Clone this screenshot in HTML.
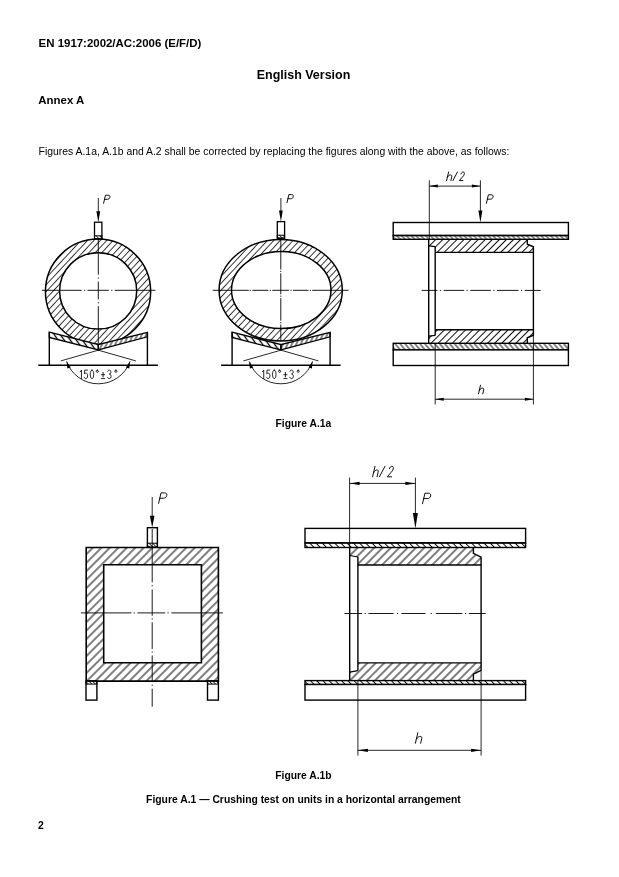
<!DOCTYPE html>
<html><head><meta charset="utf-8"><style>
html,body{margin:0;padding:0;background:#fff;width:619px;height:877px;overflow:hidden}
svg{display:block;will-change:transform}
text{font-family:"Liberation Sans",sans-serif;fill:#000}
</style></head><body>
<svg width="619" height="877" viewBox="0 0 619 877">
<defs>
<pattern id="hA" patternUnits="userSpaceOnUse" width="4.7" height="10" patternTransform="rotate(43)"><line x1="2.35" y1="-1" x2="2.35" y2="11" stroke="#000" stroke-width="0.8"/></pattern>
<pattern id="hA2" patternUnits="userSpaceOnUse" width="5.0" height="10" patternTransform="rotate(45)"><line x1="2.5" y1="-1" x2="2.5" y2="11" stroke="#000" stroke-width="0.95"/></pattern>
<pattern id="hA3" patternUnits="userSpaceOnUse" width="5.9" height="10" patternTransform="rotate(45)"><line x1="2.95" y1="-1" x2="2.95" y2="11" stroke="#000" stroke-width="1.0"/></pattern>
<pattern id="hA4" patternUnits="userSpaceOnUse" width="6.0" height="10" patternTransform="rotate(45)"><line x1="3.0" y1="-1" x2="3.0" y2="11" stroke="#000" stroke-width="1.0"/></pattern>
<pattern id="hL" patternUnits="userSpaceOnUse" width="5.0" height="10" patternTransform="rotate(-35)"><line x1="2.5" y1="-1" x2="2.5" y2="11" stroke="#000" stroke-width="1.3"/></pattern>
<pattern id="hR" patternUnits="userSpaceOnUse" width="4.0" height="10" patternTransform="rotate(25)"><line x1="2.0" y1="-1" x2="2.0" y2="11" stroke="#000" stroke-width="0.95"/></pattern>
<pattern id="hS" patternUnits="userSpaceOnUse" width="2.5" height="10" patternTransform="rotate(-45)"><line x1="1.25" y1="-1" x2="1.25" y2="11" stroke="#000" stroke-width="0.8"/></pattern>
<pattern id="hP1" patternUnits="userSpaceOnUse" width="3.4" height="10" patternTransform="rotate(-45)"><line x1="1.7" y1="-1" x2="1.7" y2="11" stroke="#000" stroke-width="0.85"/></pattern>
<pattern id="hP3" patternUnits="userSpaceOnUse" width="4.4" height="10" patternTransform="rotate(-45)"><line x1="2.2" y1="-1" x2="2.2" y2="11" stroke="#000" stroke-width="0.95"/></pattern>
<pattern id="hP2" patternUnits="userSpaceOnUse" width="3.8" height="10" patternTransform="rotate(-40)"><line x1="1.9" y1="-1" x2="1.9" y2="11" stroke="#000" stroke-width="0.95"/></pattern>
</defs>
<text x="38.6" y="47.2" font-size="11.44" font-weight="bold" font-style="normal" text-anchor="start" >EN 1917:2002/AC:2006 (E/F/D)</text>
<text x="303.5" y="79.2" font-size="12.48" font-weight="bold" font-style="normal" text-anchor="middle" >English Version</text>
<text x="38.3" y="103.6" font-size="11.44" font-weight="bold" font-style="normal" text-anchor="start" >Annex A</text>
<text x="38.6" y="154.6" font-size="10.4" font-weight="normal" font-style="normal" text-anchor="start" >Figures A.1a, A.1b and A.2 shall be corrected by replacing the figures along with the above, as follows:</text>
<text x="303.4" y="427.2" font-size="10.3" font-weight="bold" font-style="normal" text-anchor="middle" >Figure A.1a</text>
<text x="303.4" y="778.7" font-size="10.3" font-weight="bold" font-style="normal" text-anchor="middle" >Figure A.1b</text>
<text x="303.4" y="802.9" font-size="10.35" font-weight="bold" font-style="normal" text-anchor="middle" >Figure A.1 — Crushing test on units in a horizontal arrangement</text>
<text x="37.9" y="828.7" font-size="10.4" font-weight="bold" font-style="normal" text-anchor="start" >2</text>
<path d="M45.45,291.6 a52.6,52.6 0 1,0 105.2,0 a52.6,52.6 0 1,0 -105.2,0 Z M59.6,290.9 a38.55,38.2 0 1,0 77.1,0 a38.55,38.2 0 1,0 -77.1,0 Z" fill="url(#hA)" fill-rule="evenodd" stroke="#000" stroke-width="1.5"/>
<polygon points="49.30,332.20 98.30,344.60 98.30,350.00 49.30,337.40" fill="#fff" stroke="#000" stroke-width="0" />
<polygon points="147.40,332.40 98.30,344.60 98.30,350.00 147.40,336.80" fill="#fff" stroke="#000" stroke-width="0" />
<polygon points="49.30,332.20 98.30,344.60 98.30,350.00 49.30,337.40" fill="url(#hL)" stroke="#000" stroke-width="1.3" />
<polygon points="147.40,332.40 98.30,344.60 98.30,350.00 147.40,336.80" fill="url(#hR)" stroke="#000" stroke-width="1.3" />
<line x1="49.30" y1="332.20" x2="49.30" y2="365.30" stroke="#000" stroke-width="1.4" />
<line x1="147.40" y1="332.40" x2="147.40" y2="365.30" stroke="#000" stroke-width="1.4" />
<line x1="38.30" y1="365.30" x2="157.90" y2="365.30" stroke="#000" stroke-width="1.4" />
<line x1="98.30" y1="350.20" x2="60.80" y2="360.90" stroke="#000" stroke-width="0.85" />
<line x1="98.30" y1="350.20" x2="135.80" y2="360.90" stroke="#000" stroke-width="0.85" />
<path d="M66.63,361.42 A33.6,33.6 0 0 0 129.97,361.42" fill="none" stroke="#000" stroke-width="0.85" />
<polygon points="66.63,361.42 70.66,367.41 67.27,368.62" fill="#000"/>
<polygon points="129.97,361.42 129.33,368.62 125.94,367.41" fill="#000"/>
<path d="M0,-8.0 L2.2,-10 L2.2,0" transform="translate(80.10,378.60) skewX(0) scale(0.6120,0.8500)" fill="none" stroke="#000" stroke-width="0.85" stroke-linecap="round" stroke-linejoin="round" vector-effect="non-scaling-stroke"/>
<path d="M5.4,-10 L1.0,-10 L0.6,-5.7 C1.3,-6.3 2.1,-6.5 2.9,-6.5 C4.7,-6.5 5.7,-5.3 5.7,-3.3 C5.7,-1.2 4.6,0 2.9,0 C1.6,0 0.7,-0.6 0.2,-1.6" transform="translate(84.10,378.60) skewX(0) scale(0.6120,0.8500)" fill="none" stroke="#000" stroke-width="0.85" stroke-linecap="round" stroke-linejoin="round" vector-effect="non-scaling-stroke"/>
<path d="M2.9,-10 C1.1,-10 0.1,-8.0 0.1,-5.0 C0.1,-2.0 1.1,0 2.9,0 C4.7,0 5.7,-2.0 5.7,-5.0 C5.7,-8.0 4.7,-10 2.9,-10 Z" transform="translate(90.20,378.60) skewX(0) scale(0.6120,0.8500)" fill="none" stroke="#000" stroke-width="0.85" stroke-linecap="round" stroke-linejoin="round" vector-effect="non-scaling-stroke"/>
<path d="M1.8,-9.9 C2.8,-9.9 3.6,-9.3 3.6,-8.6 C3.6,-7.9 2.8,-7.3 1.8,-7.3 C0.8,-7.3 0,-7.9 0,-8.6 C0,-9.3 0.8,-9.9 1.8,-9.9 Z" transform="translate(96.20,378.60) skewX(0) scale(0.6120,0.8500)" fill="none" stroke="#000" stroke-width="0.85" stroke-linecap="round" stroke-linejoin="round" vector-effect="non-scaling-stroke"/>
<path d="M0,-4.6 L5.2,-4.6 M2.6,-7.3 L2.6,-1.9 M0,0 L5.2,0" transform="translate(101.50,378.60) skewX(0) scale(0.6120,0.8500)" fill="none" stroke="#000" stroke-width="0.85" stroke-linecap="round" stroke-linejoin="round" vector-effect="non-scaling-stroke"/>
<path d="M0.3,-8.6 C0.8,-9.6 1.8,-10 2.9,-10 C4.5,-10 5.5,-9.1 5.5,-7.6 C5.5,-6.2 4.4,-5.4 2.8,-5.4 C4.6,-5.4 5.8,-4.4 5.8,-2.7 C5.8,-1.0 4.6,0 2.9,0 C1.7,0 0.6,-0.5 0.1,-1.5" transform="translate(107.50,378.60) skewX(0) scale(0.6120,0.8500)" fill="none" stroke="#000" stroke-width="0.85" stroke-linecap="round" stroke-linejoin="round" vector-effect="non-scaling-stroke"/>
<path d="M1.8,-9.9 C2.8,-9.9 3.6,-9.3 3.6,-8.6 C3.6,-7.9 2.8,-7.3 1.8,-7.3 C0.8,-7.3 0,-7.9 0,-8.6 C0,-9.3 0.8,-9.9 1.8,-9.9 Z" transform="translate(114.80,378.60) skewX(0) scale(0.6120,0.8500)" fill="none" stroke="#000" stroke-width="0.85" stroke-linecap="round" stroke-linejoin="round" vector-effect="non-scaling-stroke"/>
<line x1="98.30" y1="198.00" x2="98.30" y2="212.20" stroke="#000" stroke-width="0.85" />
<polygon points="98.30,222.20 96.40,211.20 100.20,211.20" fill="#000"/>
<rect x="94.5" y="222.2" width="7.400000000000006" height="16.600000000000023" fill="#fff" stroke="#000" stroke-width="1.3"/>
<rect x="94.5" y="235.8" width="7.400000000000006" height="3" fill="url(#hS)" stroke="#000" stroke-width="1.0"/>
<path d="M0,0 L0,-10 L3.4,-10 C5.2,-10 6.0,-9.0 6.0,-7.4 C6.0,-5.8 5.2,-4.9 3.4,-4.9 L0,-4.9" transform="translate(103.60,203.30) skewX(-13) scale(0.8100,0.8100)" fill="none" stroke="#000" stroke-width="0.95" stroke-linecap="round" stroke-linejoin="round" vector-effect="non-scaling-stroke"/>
<line x1="41.90" y1="290.30" x2="81.70" y2="290.30" stroke="#000" stroke-width="0.9" />
<line x1="87.50" y1="290.30" x2="108.90" y2="290.30" stroke="#000" stroke-width="0.9" />
<line x1="114.70" y1="290.30" x2="155.40" y2="290.30" stroke="#000" stroke-width="0.9" />
<line x1="84.00" y1="290.30" x2="85.20" y2="290.30" stroke="#000" stroke-width="0.9" />
<line x1="111.20" y1="290.30" x2="112.40" y2="290.30" stroke="#000" stroke-width="0.9" />
<line x1="98.30" y1="238.80" x2="98.30" y2="274.70" stroke="#000" stroke-width="0.9" />
<line x1="98.30" y1="281.60" x2="98.30" y2="299.40" stroke="#000" stroke-width="0.9" />
<line x1="98.30" y1="306.20" x2="98.30" y2="343.20" stroke="#000" stroke-width="0.9" />
<line x1="98.30" y1="277.50" x2="98.30" y2="278.70" stroke="#000" stroke-width="0.9" />
<line x1="98.30" y1="302.20" x2="98.30" y2="303.40" stroke="#000" stroke-width="0.9" />
<path d="M219.1,290.2 a61.6,50.8 0 1,0 123.2,0 a61.6,50.8 0 1,0 -123.2,0 Z M231.5,290.05 a49.75,38.55 0 1,0 99.5,0 a49.75,38.55 0 1,0 -99.5,0 Z" fill="url(#hA)" fill-rule="evenodd" stroke="#000" stroke-width="1.5"/>
<polygon points="232.10,332.20 280.90,344.60 280.90,350.00 232.10,337.40" fill="#fff" stroke="#000" stroke-width="0" />
<polygon points="330.10,332.40 280.90,344.60 280.90,350.00 330.10,336.80" fill="#fff" stroke="#000" stroke-width="0" />
<polygon points="232.10,332.20 280.90,344.60 280.90,350.00 232.10,337.40" fill="url(#hL)" stroke="#000" stroke-width="1.3" />
<polygon points="330.10,332.40 280.90,344.60 280.90,350.00 330.10,336.80" fill="url(#hR)" stroke="#000" stroke-width="1.3" />
<line x1="232.10" y1="332.20" x2="232.10" y2="365.30" stroke="#000" stroke-width="1.4" />
<line x1="330.10" y1="332.40" x2="330.10" y2="365.30" stroke="#000" stroke-width="1.4" />
<line x1="221.10" y1="365.30" x2="340.60" y2="365.30" stroke="#000" stroke-width="1.4" />
<line x1="280.90" y1="350.20" x2="243.40" y2="360.90" stroke="#000" stroke-width="0.85" />
<line x1="280.90" y1="350.20" x2="318.40" y2="360.90" stroke="#000" stroke-width="0.85" />
<path d="M249.23,361.42 A33.6,33.6 0 0 0 312.57,361.42" fill="none" stroke="#000" stroke-width="0.85" />
<polygon points="249.23,361.42 253.26,367.41 249.87,368.62" fill="#000"/>
<polygon points="312.57,361.42 311.93,368.62 308.54,367.41" fill="#000"/>
<path d="M0,-8.0 L2.2,-10 L2.2,0" transform="translate(262.40,378.60) skewX(0) scale(0.6120,0.8500)" fill="none" stroke="#000" stroke-width="0.85" stroke-linecap="round" stroke-linejoin="round" vector-effect="non-scaling-stroke"/>
<path d="M5.4,-10 L1.0,-10 L0.6,-5.7 C1.3,-6.3 2.1,-6.5 2.9,-6.5 C4.7,-6.5 5.7,-5.3 5.7,-3.3 C5.7,-1.2 4.6,0 2.9,0 C1.6,0 0.7,-0.6 0.2,-1.6" transform="translate(266.40,378.60) skewX(0) scale(0.6120,0.8500)" fill="none" stroke="#000" stroke-width="0.85" stroke-linecap="round" stroke-linejoin="round" vector-effect="non-scaling-stroke"/>
<path d="M2.9,-10 C1.1,-10 0.1,-8.0 0.1,-5.0 C0.1,-2.0 1.1,0 2.9,0 C4.7,0 5.7,-2.0 5.7,-5.0 C5.7,-8.0 4.7,-10 2.9,-10 Z" transform="translate(272.50,378.60) skewX(0) scale(0.6120,0.8500)" fill="none" stroke="#000" stroke-width="0.85" stroke-linecap="round" stroke-linejoin="round" vector-effect="non-scaling-stroke"/>
<path d="M1.8,-9.9 C2.8,-9.9 3.6,-9.3 3.6,-8.6 C3.6,-7.9 2.8,-7.3 1.8,-7.3 C0.8,-7.3 0,-7.9 0,-8.6 C0,-9.3 0.8,-9.9 1.8,-9.9 Z" transform="translate(278.50,378.60) skewX(0) scale(0.6120,0.8500)" fill="none" stroke="#000" stroke-width="0.85" stroke-linecap="round" stroke-linejoin="round" vector-effect="non-scaling-stroke"/>
<path d="M0,-4.6 L5.2,-4.6 M2.6,-7.3 L2.6,-1.9 M0,0 L5.2,0" transform="translate(283.80,378.60) skewX(0) scale(0.6120,0.8500)" fill="none" stroke="#000" stroke-width="0.85" stroke-linecap="round" stroke-linejoin="round" vector-effect="non-scaling-stroke"/>
<path d="M0.3,-8.6 C0.8,-9.6 1.8,-10 2.9,-10 C4.5,-10 5.5,-9.1 5.5,-7.6 C5.5,-6.2 4.4,-5.4 2.8,-5.4 C4.6,-5.4 5.8,-4.4 5.8,-2.7 C5.8,-1.0 4.6,0 2.9,0 C1.7,0 0.6,-0.5 0.1,-1.5" transform="translate(289.80,378.60) skewX(0) scale(0.6120,0.8500)" fill="none" stroke="#000" stroke-width="0.85" stroke-linecap="round" stroke-linejoin="round" vector-effect="non-scaling-stroke"/>
<path d="M1.8,-9.9 C2.8,-9.9 3.6,-9.3 3.6,-8.6 C3.6,-7.9 2.8,-7.3 1.8,-7.3 C0.8,-7.3 0,-7.9 0,-8.6 C0,-9.3 0.8,-9.9 1.8,-9.9 Z" transform="translate(297.10,378.60) skewX(0) scale(0.6120,0.8500)" fill="none" stroke="#000" stroke-width="0.85" stroke-linecap="round" stroke-linejoin="round" vector-effect="non-scaling-stroke"/>
<line x1="280.90" y1="198.00" x2="280.90" y2="211.60" stroke="#000" stroke-width="0.85" />
<polygon points="280.90,221.60 279.00,210.60 282.80,210.60" fill="#000"/>
<rect x="277.3" y="221.6" width="7.300000000000011" height="16.599999999999994" fill="#fff" stroke="#000" stroke-width="1.3"/>
<rect x="277.3" y="235.2" width="7.300000000000011" height="3" fill="url(#hS)" stroke="#000" stroke-width="1.0"/>
<path d="M0,0 L0,-10 L3.4,-10 C5.2,-10 6.0,-9.0 6.0,-7.4 C6.0,-5.8 5.2,-4.9 3.4,-4.9 L0,-4.9" transform="translate(287.00,202.70) skewX(-13) scale(0.8100,0.8100)" fill="none" stroke="#000" stroke-width="0.95" stroke-linecap="round" stroke-linejoin="round" vector-effect="non-scaling-stroke"/>
<line x1="212.70" y1="290.30" x2="248.80" y2="290.30" stroke="#000" stroke-width="0.9" />
<line x1="252.30" y1="290.30" x2="268.40" y2="290.30" stroke="#000" stroke-width="0.9" />
<line x1="272.30" y1="290.30" x2="289.10" y2="290.30" stroke="#000" stroke-width="0.9" />
<line x1="293.00" y1="290.30" x2="308.50" y2="290.30" stroke="#000" stroke-width="0.9" />
<line x1="312.20" y1="290.30" x2="348.50" y2="290.30" stroke="#000" stroke-width="0.9" />
<line x1="249.70" y1="290.30" x2="250.90" y2="290.30" stroke="#000" stroke-width="0.9" />
<line x1="269.80" y1="290.30" x2="271.00" y2="290.30" stroke="#000" stroke-width="0.9" />
<line x1="290.40" y1="290.30" x2="291.60" y2="290.30" stroke="#000" stroke-width="0.9" />
<line x1="309.80" y1="290.30" x2="311.00" y2="290.30" stroke="#000" stroke-width="0.9" />
<line x1="280.80" y1="238.20" x2="280.80" y2="269.50" stroke="#000" stroke-width="0.9" />
<line x1="280.80" y1="273.30" x2="280.80" y2="294.30" stroke="#000" stroke-width="0.9" />
<line x1="280.80" y1="298.10" x2="280.80" y2="320.70" stroke="#000" stroke-width="0.9" />
<line x1="280.80" y1="324.50" x2="280.80" y2="341.00" stroke="#000" stroke-width="0.9" />
<line x1="280.80" y1="270.80" x2="280.80" y2="272.00" stroke="#000" stroke-width="0.9" />
<line x1="280.80" y1="295.60" x2="280.80" y2="296.80" stroke="#000" stroke-width="0.9" />
<line x1="280.80" y1="322.00" x2="280.80" y2="323.20" stroke="#000" stroke-width="0.9" />
<rect x="393.2" y="222.5" width="175.2" height="13.0" fill="#fff" stroke="#000" stroke-width="1.4"/>
<rect x="393.2" y="235.5" width="175.2" height="3.8000000000000114" fill="url(#hP1)" stroke="#000" stroke-width="1.4"/>
<rect x="393.2" y="343.3" width="175.2" height="6.599999999999966" fill="url(#hP2)" stroke="#000" stroke-width="1.4"/>
<rect x="393.2" y="349.9" width="175.2" height="15.600000000000023" fill="#fff" stroke="#000" stroke-width="1.4"/>
<path d="M428.7,239.3 L527.3,239.3 L527.3,244.2 L533.4,246.8 L533.4,252.4 L435.2,252.4 L435.2,246.6 L428.7,245.9 Z" fill="url(#hA2)" stroke="#000" stroke-width="0" />
<path d="M428.7,343.3 L527.3,343.3 L527.3,337.8 L533.4,335.2 L533.4,329.7 L435.2,329.7 L435.2,335.4 L428.7,336.1 Z" fill="url(#hA2)" stroke="#000" stroke-width="0" />
<line x1="428.70" y1="239.30" x2="428.70" y2="343.30" stroke="#000" stroke-width="1.4" />
<line x1="435.20" y1="246.60" x2="435.20" y2="335.40" stroke="#000" stroke-width="1.4" />
<line x1="435.20" y1="252.40" x2="533.40" y2="252.40" stroke="#000" stroke-width="1.4" />
<line x1="435.20" y1="329.70" x2="533.40" y2="329.70" stroke="#000" stroke-width="1.4" />
<path d="M428.7,245.9 L435.2,246.6" fill="none" stroke="#000" stroke-width="1.2" />
<path d="M428.7,336.1 L435.2,335.4" fill="none" stroke="#000" stroke-width="1.2" />
<path d="M527.3,239.3 L527.3,244.2 L533.4,246.8 L533.4,335.2 L527.3,337.8 L527.3,343.3" fill="none" stroke="#000" stroke-width="1.4" />
<line x1="429.30" y1="180.30" x2="429.30" y2="239.30" stroke="#000" stroke-width="0.85" />
<line x1="480.40" y1="180.30" x2="480.40" y2="211.50" stroke="#000" stroke-width="0.85" />
<polygon points="480.40,222.50 478.40,210.50 482.40,210.50" fill="#000"/>
<line x1="429.30" y1="186.10" x2="480.40" y2="186.10" stroke="#000" stroke-width="0.85" />
<polygon points="429.30,186.10 437.80,184.60 437.80,187.60" fill="#000"/>
<polygon points="480.40,186.10 471.90,187.60 471.90,184.60" fill="#000"/>
<line x1="435.20" y1="343.30" x2="435.20" y2="404.50" stroke="#000" stroke-width="0.85" />
<line x1="533.40" y1="335.20" x2="533.40" y2="404.50" stroke="#000" stroke-width="0.85" />
<line x1="435.20" y1="399.20" x2="533.40" y2="399.20" stroke="#000" stroke-width="0.85" />
<polygon points="435.20,399.20 443.70,397.70 443.70,400.70" fill="#000"/>
<polygon points="533.40,399.20 524.90,400.70 524.90,397.70" fill="#000"/>
<line x1="421.70" y1="290.40" x2="437.50" y2="290.40" stroke="#000" stroke-width="0.9" />
<line x1="443.60" y1="290.40" x2="464.20" y2="290.40" stroke="#000" stroke-width="0.9" />
<line x1="470.30" y1="290.40" x2="490.80" y2="290.40" stroke="#000" stroke-width="0.9" />
<line x1="497.00" y1="290.40" x2="518.50" y2="290.40" stroke="#000" stroke-width="0.9" />
<line x1="524.70" y1="290.40" x2="540.70" y2="290.40" stroke="#000" stroke-width="0.9" />
<line x1="439.80" y1="290.40" x2="441.00" y2="290.40" stroke="#000" stroke-width="0.9" />
<line x1="466.40" y1="290.40" x2="467.60" y2="290.40" stroke="#000" stroke-width="0.9" />
<line x1="493.30" y1="290.40" x2="494.50" y2="290.40" stroke="#000" stroke-width="0.9" />
<line x1="521.00" y1="290.40" x2="522.20" y2="290.40" stroke="#000" stroke-width="0.9" />
<path d="M0,0 L0,-10 M0,-4.0 C0.8,-5.8 1.9,-6.6 3.0,-6.6 C4.3,-6.6 5.0,-5.8 5.0,-4.4 L5.0,0" transform="translate(446.60,180.60) skewX(-13) scale(0.8600,0.8600)" fill="none" stroke="#000" stroke-width="0.95" stroke-linecap="round" stroke-linejoin="round" vector-effect="non-scaling-stroke"/>
<path d="M0,0 L3.0,-10" transform="translate(452.90,180.60) skewX(-13) scale(0.8600,0.8600)" fill="none" stroke="#000" stroke-width="0.95" stroke-linecap="round" stroke-linejoin="round" vector-effect="non-scaling-stroke"/>
<path d="M0.3,-7.8 C0.6,-9.3 1.7,-10 3.0,-10 C4.6,-10 5.6,-9.0 5.6,-7.5 C5.6,-6.1 4.9,-5.2 3.7,-4.1 L0,0 L5.8,0" transform="translate(459.30,180.60) skewX(-13) scale(0.6192,0.8600)" fill="none" stroke="#000" stroke-width="0.95" stroke-linecap="round" stroke-linejoin="round" vector-effect="non-scaling-stroke"/>
<path d="M0,0 L0,-10 L3.4,-10 C5.2,-10 6.0,-9.0 6.0,-7.4 C6.0,-5.8 5.2,-4.9 3.4,-4.9 L0,-4.9" transform="translate(486.40,203.40) skewX(-13) scale(0.8600,0.8600)" fill="none" stroke="#000" stroke-width="0.95" stroke-linecap="round" stroke-linejoin="round" vector-effect="non-scaling-stroke"/>
<path d="M0,0 L0,-10 M0,-4.0 C0.8,-5.8 1.9,-6.6 3.0,-6.6 C4.3,-6.6 5.0,-5.8 5.0,-4.4 L5.0,0" transform="translate(478.50,393.80) skewX(-13) scale(0.8600,0.8600)" fill="none" stroke="#000" stroke-width="0.95" stroke-linecap="round" stroke-linejoin="round" vector-effect="non-scaling-stroke"/>
<rect x="305.0" y="528.4" width="220.60000000000002" height="14.5" fill="#fff" stroke="#000" stroke-width="1.4"/>
<rect x="305.0" y="542.9" width="220.60000000000002" height="4.600000000000023" fill="url(#hP3)" stroke="#000" stroke-width="1.4"/>
<rect x="305.0" y="680.6" width="220.60000000000002" height="3.8999999999999773" fill="url(#hP3)" stroke="#000" stroke-width="1.4"/>
<rect x="305.0" y="684.5" width="220.60000000000002" height="15.600000000000023" fill="#fff" stroke="#000" stroke-width="1.4"/>
<path d="M349.7,547.5 L473.4,547.5 L473.4,553.4 L481.1,557.2 L481.1,565.0 L357.9,565.0 L357.9,557.0 L349.7,555.5 Z" fill="url(#hA3)" stroke="#000" stroke-width="0" />
<path d="M349.7,680.6 L473.4,680.6 L473.4,674.1999999999999 L481.1,670.3999999999999 L481.1,662.9 L357.9,662.9 L357.9,670.5999999999999 L349.7,672.0999999999999 Z" fill="url(#hA3)" stroke="#000" stroke-width="0" />
<line x1="349.70" y1="547.50" x2="349.70" y2="680.60" stroke="#000" stroke-width="1.4" />
<line x1="357.90" y1="557.00" x2="357.90" y2="670.60" stroke="#000" stroke-width="1.4" />
<line x1="357.90" y1="565.00" x2="481.10" y2="565.00" stroke="#000" stroke-width="1.4" />
<line x1="357.90" y1="662.90" x2="481.10" y2="662.90" stroke="#000" stroke-width="1.4" />
<path d="M349.7,555.5 L357.9,557.0" fill="none" stroke="#000" stroke-width="1.2" />
<path d="M349.7,672.0999999999999 L357.9,670.5999999999999" fill="none" stroke="#000" stroke-width="1.2" />
<path d="M473.4,547.5 L473.4,553.4 L481.1,557.2 L481.1,670.3999999999999 L473.4,674.1999999999999 L473.4,680.6" fill="none" stroke="#000" stroke-width="1.4" />
<line x1="349.60" y1="477.60" x2="349.60" y2="547.50" stroke="#000" stroke-width="0.85" />
<line x1="415.40" y1="477.60" x2="415.40" y2="513.90" stroke="#000" stroke-width="0.85" />
<polygon points="415.40,528.40 412.90,512.90 417.90,512.90" fill="#000"/>
<line x1="349.60" y1="483.40" x2="415.40" y2="483.40" stroke="#000" stroke-width="0.85" />
<polygon points="349.60,483.40 359.60,481.80 359.60,485.00" fill="#000"/>
<polygon points="415.40,483.40 405.40,485.00 405.40,481.80" fill="#000"/>
<line x1="357.90" y1="680.60" x2="357.90" y2="755.60" stroke="#000" stroke-width="0.85" />
<line x1="481.10" y1="670.40" x2="481.10" y2="755.60" stroke="#000" stroke-width="0.85" />
<line x1="357.90" y1="750.30" x2="481.10" y2="750.30" stroke="#000" stroke-width="0.85" />
<polygon points="357.90,750.30 367.90,748.70 367.90,751.90" fill="#000"/>
<polygon points="481.10,750.30 471.10,751.90 471.10,748.70" fill="#000"/>
<line x1="344.50" y1="613.50" x2="362.00" y2="613.50" stroke="#000" stroke-width="0.9" />
<line x1="368.40" y1="613.50" x2="393.60" y2="613.50" stroke="#000" stroke-width="0.9" />
<line x1="401.40" y1="613.50" x2="425.50" y2="613.50" stroke="#000" stroke-width="0.9" />
<line x1="435.80" y1="613.50" x2="462.30" y2="613.50" stroke="#000" stroke-width="0.9" />
<line x1="468.80" y1="613.50" x2="485.60" y2="613.50" stroke="#000" stroke-width="0.9" />
<line x1="364.60" y1="613.50" x2="365.80" y2="613.50" stroke="#000" stroke-width="0.9" />
<line x1="396.90" y1="613.50" x2="398.10" y2="613.50" stroke="#000" stroke-width="0.9" />
<line x1="430.70" y1="613.50" x2="431.90" y2="613.50" stroke="#000" stroke-width="0.9" />
<line x1="465.00" y1="613.50" x2="466.20" y2="613.50" stroke="#000" stroke-width="0.9" />
<path d="M0,0 L0,-10 M0,-4.0 C0.8,-5.8 1.9,-6.6 3.0,-6.6 C4.3,-6.6 5.0,-5.8 5.0,-4.4 L5.0,0" transform="translate(372.60,476.80) skewX(-13) scale(0.8925,1.0500)" fill="none" stroke="#000" stroke-width="0.95" stroke-linecap="round" stroke-linejoin="round" vector-effect="non-scaling-stroke"/>
<path d="M0,0 L3.0,-10" transform="translate(379.40,476.80) skewX(-13) scale(1.0500,1.0500)" fill="none" stroke="#000" stroke-width="0.95" stroke-linecap="round" stroke-linejoin="round" vector-effect="non-scaling-stroke"/>
<path d="M0.3,-7.8 C0.6,-9.3 1.7,-10 3.0,-10 C4.6,-10 5.6,-9.0 5.6,-7.5 C5.6,-6.1 4.9,-5.2 3.7,-4.1 L0,0 L5.8,0" transform="translate(387.20,476.80) skewX(-13) scale(0.7560,1.0500)" fill="none" stroke="#000" stroke-width="0.95" stroke-linecap="round" stroke-linejoin="round" vector-effect="non-scaling-stroke"/>
<path d="M0,0 L0,-10 L3.4,-10 C5.2,-10 6.0,-9.0 6.0,-7.4 C6.0,-5.8 5.2,-4.9 3.4,-4.9 L0,-4.9" transform="translate(422.50,503.70) skewX(-13) scale(1.0500,1.0500)" fill="none" stroke="#000" stroke-width="0.95" stroke-linecap="round" stroke-linejoin="round" vector-effect="non-scaling-stroke"/>
<path d="M0,0 L0,-10 M0,-4.0 C0.8,-5.8 1.9,-6.6 3.0,-6.6 C4.3,-6.6 5.0,-5.8 5.0,-4.4 L5.0,0" transform="translate(415.40,743.30) skewX(-13) scale(1.0500,1.0500)" fill="none" stroke="#000" stroke-width="0.95" stroke-linecap="round" stroke-linejoin="round" vector-effect="non-scaling-stroke"/>
<path d="M86.2,547.5 H218.4 V681.1 H86.2 Z M103.7,564.8 V662.8 H201.4 V564.8 Z" fill="url(#hA4)" fill-rule="evenodd" stroke="#000" stroke-width="1.6"/>
<line x1="152.20" y1="497.00" x2="152.20" y2="517.00" stroke="#000" stroke-width="0.85" />
<polygon points="152.20,527.70 149.90,515.70 154.50,515.70" fill="#000"/>
<rect x="147.4" y="527.7" width="10" height="19.5" fill="#fff" stroke="#000" stroke-width="1.4"/>
<rect x="147.4" y="543.2" width="10" height="4" fill="url(#hS)" stroke="#000" stroke-width="1.0"/>
<rect x="86.0" y="681.1" width="10.9" height="19" fill="#fff" stroke="#000" stroke-width="1.4"/>
<rect x="86.0" y="681.1" width="10.9" height="3" fill="url(#hS)" stroke="#000" stroke-width="1.0"/>
<rect x="207.5" y="681.1" width="10.9" height="19" fill="#fff" stroke="#000" stroke-width="1.4"/>
<rect x="207.5" y="681.1" width="10.9" height="3" fill="url(#hS)" stroke="#000" stroke-width="1.0"/>
<line x1="80.90" y1="612.90" x2="131.30" y2="612.90" stroke="#000" stroke-width="0.9" />
<line x1="137.40" y1="612.90" x2="165.20" y2="612.90" stroke="#000" stroke-width="0.9" />
<line x1="171.30" y1="612.90" x2="222.90" y2="612.90" stroke="#000" stroke-width="0.9" />
<line x1="133.60" y1="612.90" x2="134.80" y2="612.90" stroke="#000" stroke-width="0.9" />
<line x1="167.50" y1="612.90" x2="168.70" y2="612.90" stroke="#000" stroke-width="0.9" />
<line x1="152.20" y1="529.00" x2="152.20" y2="582.30" stroke="#000" stroke-width="0.9" />
<line x1="152.20" y1="589.50" x2="152.20" y2="615.80" stroke="#000" stroke-width="0.9" />
<line x1="152.20" y1="622.30" x2="152.20" y2="649.00" stroke="#000" stroke-width="0.9" />
<line x1="152.20" y1="655.50" x2="152.20" y2="682.00" stroke="#000" stroke-width="0.9" />
<line x1="152.20" y1="688.70" x2="152.20" y2="706.70" stroke="#000" stroke-width="0.9" />
<line x1="152.20" y1="585.10" x2="152.20" y2="586.30" stroke="#000" stroke-width="0.9" />
<line x1="152.20" y1="618.30" x2="152.20" y2="619.50" stroke="#000" stroke-width="0.9" />
<line x1="152.20" y1="651.50" x2="152.20" y2="652.70" stroke="#000" stroke-width="0.9" />
<line x1="152.20" y1="684.70" x2="152.20" y2="685.90" stroke="#000" stroke-width="0.9" />
<path d="M0,0 L0,-10 L3.4,-10 C5.2,-10 6.0,-9.0 6.0,-7.4 C6.0,-5.8 5.2,-4.9 3.4,-4.9 L0,-4.9" transform="translate(158.60,503.40) skewX(-13) scale(1.0500,1.0500)" fill="none" stroke="#000" stroke-width="0.95" stroke-linecap="round" stroke-linejoin="round" vector-effect="non-scaling-stroke"/>
</svg>
</body></html>
